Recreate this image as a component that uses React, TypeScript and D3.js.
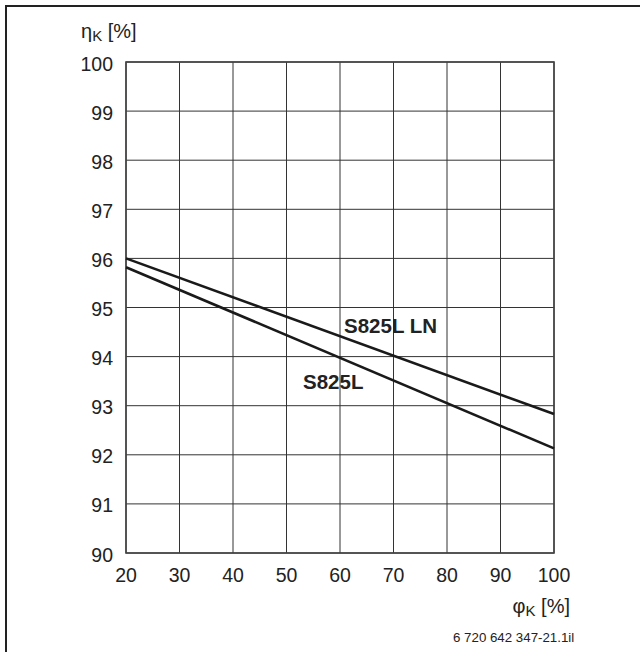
import React from "react";
import * as d3 from "d3";

const xTicks = [20, 30, 40, 50, 60, 70, 80, 90, 100];
const yTicks = [90, 91, 92, 93, 94, 95, 96, 97, 98, 99, 100];
const seriesNames = ["S825L LN", "S825L"];
const seriesX = [20, 100];
const seriesLN = [96.0, 92.83];
const seriesL = [95.82, 92.13];
const caption = "6 720 642 347-21.1il";

const W = 640;
const H = 652;
const FONT = "'Liberation Sans', Arial, Helvetica, sans-serif";

export default function App() {
  const x = d3.scaleLinear().domain([20, 100]).range([126, 554]);
  const y = d3.scaleLinear().domain([90, 100]).range([553, 62]);
  const line = d3
    .line<[number, number]>()
    .x((d) => x(d[0]))
    .y((d) => y(d[1]));
  const dLN = line(seriesX.map((v, i) => [v, seriesLN[i]] as [number, number])) || "";
  const dL = line(seriesX.map((v, i) => [v, seriesL[i]] as [number, number])) || "";

  return (
    <svg
      width={W}
      height={H}
      style={{ position: "absolute", left: 0, top: 0, background: "#fff" }}
      fontFamily={FONT}
    >
      {/* outer border (left and top visible) */}
      <line x1={6} y1={5} x2={6} y2={H} stroke="#222" strokeWidth={2} />
      <line x1={5} y1={6} x2={W} y2={6} stroke="#222" strokeWidth={2} />

      {/* grid */}
      {xTicks.map((t) => (
        <line key={"gx" + t} x1={x(t)} x2={x(t)} y1={y(90)} y2={y(100)} stroke="#333" strokeWidth={1} />
      ))}
      {yTicks.map((t) => (
        <line key={"gy" + t} x1={x(20)} x2={x(100)} y1={y(t)} y2={y(t)} stroke="#333" strokeWidth={1} />
      ))}
      <rect
        x={x(20)}
        y={y(100)}
        width={x(100) - x(20)}
        height={y(90) - y(100)}
        fill="none"
        stroke="#444"
        strokeWidth={1.6}
      />

      {/* y tick labels */}
      {yTicks.map((t) => (
        <text key={"ty" + t} x={113} y={y(t) + 8.5} textAnchor="end" fontSize={19.5} fill="#222">
          {t}
        </text>
      ))}
      {/* x tick labels */}
      {xTicks.map((t) => (
        <text key={"tx" + t} x={x(t)} y={582} textAnchor="middle" fontSize={19.5} fill="#222">
          {t}
        </text>
      ))}

      {/* axis titles */}
      <text x={81} y={38} fontSize={20} fill="#222">
        η<tspan fontSize={15} dy={3}>K</tspan>
        <tspan dy={-3}> [%]</tspan>
      </text>
      <text x={570} y={613} textAnchor="end" fontSize={20} fill="#222">
        φ<tspan fontSize={15} dy={3}>K</tspan>
        <tspan dy={-3}> [%]</tspan>
      </text>

      {/* data lines */}
      <path d={dLN} fill="none" stroke="#1a1a1a" strokeWidth={2.6} />
      <path d={dL} fill="none" stroke="#1a1a1a" strokeWidth={2.6} />

      {/* series labels */}
      <text x={344} y={333} fontSize={20.5} fontWeight="bold" fill="#222">
        {seriesNames[0]}
      </text>
      <text x={303} y={389} fontSize={20.5} fontWeight="bold" fill="#222">
        {seriesNames[1]}
      </text>

      {/* caption */}
      <text x={453} y={642} fontSize={13.3} fill="#222">
        {caption}
      </text>
    </svg>
  );
}
